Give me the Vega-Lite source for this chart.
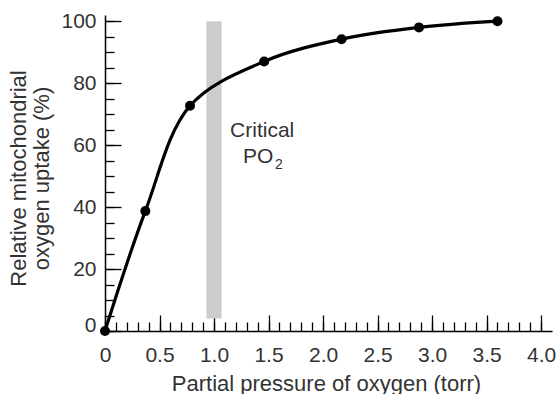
{
  "$schema": "https://vega.github.io/schema/vega-lite/v6.json",
  "width": 447,
  "height": 316,
  "autosize": {"type": "none"},
  "padding": {"left": 105, "top": 15, "right": 7, "bottom": 63},
  "background": "white",
  "config": {
    "view": {"stroke": null},
    "font": "Liberation Sans",
    "axis": {
      "domainColor": "#000000",
      "domainWidth": 1.5,
      "tickColor": "#000000",
      "tickWidth": 1.3,
      "labelFont": "Liberation Sans",
      "labelColor": "#333333",
      "labelFontSize": 21,
      "titleFont": "Liberation Sans",
      "titleColor": "#333333",
      "titleFontSize": 22,
      "titleFontWeight": "normal",
      "grid": false,
      "labelOverlap": false,
      "labelFlush": false
    }
  },
  "datasets": {
    "uptake": [
      {"pressure": 0, "uptake": 0},
      {"pressure": 0.37, "uptake": 38.7},
      {"pressure": 0.78, "uptake": 72.7},
      {"pressure": 1.46, "uptake": 87},
      {"pressure": 2.17, "uptake": 94.2},
      {"pressure": 2.88, "uptake": 98},
      {"pressure": 3.6, "uptake": 100}
    ],
    "band": [
      {"x1": 0.93, "x2": 1.07, "y1": 4, "y2": 100}
    ],
    "notes": [
      {"text": "Critical", "x": 1.147, "y": 62.6},
      {"text": "PO", "x": 1.266, "y": 54.2}
    ],
    "subs": [
      {"text": "2", "x": 1.56, "y": 52.4}
    ]
  },
  "resolve": {"axis": {"x": "independent", "y": "independent"}},
  "layer": [
    {
      "data": {"name": "band"},
      "mark": {"type": "rect", "color": "#cccccc"},
      "encoding": {
        "x": {"field": "x1", "type": "quantitative", "scale": {"domain": [0, 4.1], "nice": false, "zero": false}, "axis": null},
        "x2": {"field": "x2"},
        "y": {"field": "y1", "type": "quantitative", "scale": {"domain": [0, 102], "nice": false, "zero": false}, "axis": null},
        "y2": {"field": "y2"}
      }
    },
    {
      "data": {"name": "uptake"},
      "mark": {"type": "line", "interpolate": "catmull-rom", "color": "#000000", "strokeWidth": 3.2},
      "encoding": {
        "x": {
          "field": "pressure", "type": "quantitative",
          "axis": {
            "orient": "bottom",
            "values": [0,0.1,0.2,0.3,0.4,0.5,0.6,0.7,0.8,0.9,1.0,1.1,1.2,1.3,1.4,1.5,1.6,1.7,1.8,1.9,2.0,2.1,2.2,2.3,2.4,2.5,2.6,2.7,2.8,2.9,3.0,3.1,3.2,3.3,3.4,3.5,3.6,3.7,3.8,3.9,4.0],
            "tickSize": -9,
            "labelPadding": 22,
            "labelExpr": "abs(datum.value*2 - round(datum.value*2)) < 0.001 ? (datum.value == 0 ? '0' : format(datum.value, '.1f')) : ''",
            "title": "Partial pressure of oxygen (torr)",
            "titleX": 221,
            "titleY": 59,
            "titleAlign": "center",
            "titleBaseline": "alphabetic"
          }
        },
        "y": {
          "field": "uptake", "type": "quantitative",
          "axis": {
            "orient": "left",
            "values": [0,5,10,15,20,25,30,35,40,45,50,55,60,65,70,75,80,85,90,95,100],
            "tickSize": -9,
            "labelPadding": 18,
            "labelExpr": "datum.value % 20 == 0 ? format(datum.value, 'd') : ''",
            "labelOffset": {"condition": {"test": "datum.value == 0", "value": -6}, "value": 0},
            "title": ["Relative mitochondrial", "oxygen uptake (%)"],
            "titleAngle": -90,
            "titleX": -80,
            "titleY": 163,
            "titleAlign": "center",
            "titleBaseline": "alphabetic",
            "titleLineHeight": 23
          }
        }
      }
    },
    {
      "data": {"name": "uptake"},
      "mark": {"type": "point", "filled": true, "color": "#000000", "size": 100, "opacity": 1},
      "encoding": {
        "x": {
          "field": "pressure", "type": "quantitative",
          "axis": {"orient": "bottom", "values": [0,0.5,1.0,1.5,2.0,2.5,3.0,3.5,4.0], "tickSize": -16, "labels": false, "domain": false, "title": null}
        },
        "y": {
          "field": "uptake", "type": "quantitative",
          "axis": {"orient": "left", "values": [0,20,40,60,80,100], "tickSize": -16, "labels": false, "domain": false, "title": null}
        }
      }
    },
    {
      "data": {"name": "notes"},
      "mark": {"type": "text", "align": "left", "baseline": "alphabetic", "fontSize": 21, "color": "#333333", "font": "Liberation Sans"},
      "encoding": {
        "x": {"field": "x", "type": "quantitative", "axis": null},
        "y": {"field": "y", "type": "quantitative", "axis": null},
        "text": {"field": "text"}
      }
    },
    {
      "data": {"name": "subs"},
      "mark": {"type": "text", "align": "left", "baseline": "alphabetic", "fontSize": 14, "color": "#333333", "font": "Liberation Sans"},
      "encoding": {
        "x": {"field": "x", "type": "quantitative", "axis": null},
        "y": {"field": "y", "type": "quantitative", "axis": null},
        "text": {"field": "text"}
      }
    }
  ]
}
